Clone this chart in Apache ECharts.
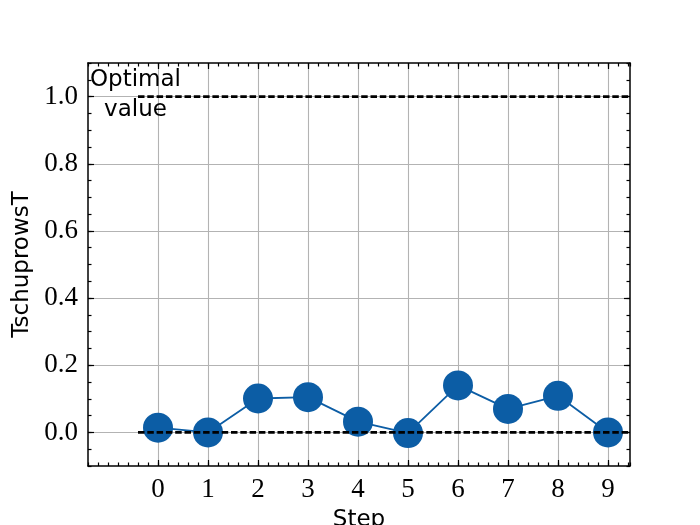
<!DOCTYPE html>
<html>
<head>
<meta charset="utf-8">
<script src="https://cdn.jsdelivr.net/npm/echarts@6/dist/echarts.min.js"></script>
<style>html,body{margin:0;padding:0;background:#fff;}#c{width:700px;height:525px;}</style>
</head>
<body>
<div id="c"></div>
<script>
// ---- data ----
var steps = [0, 1, 2, 3, 4, 5, 6, 7, 8, 9];
var tschuprowsT = [0.014, 0.0, 0.101, 0.105, 0.032, -0.002, 0.140, 0.070, 0.109, 0.0];
var xTicks = [0, 1, 2, 3, 4, 5, 6, 7, 8, 9];
var yTicks = [0.0, 0.2, 0.4, 0.6, 0.8, 1.0];
var xRange = [-1.4, 9.44];
var yRange = [-0.1, 1.1];
var refLevels = [1.0, 0.0];
var refLineStart = -0.4;
var annotation = { x: -0.45, y: 1.0, text: 'Optimal\nvalue' };

var blue = '#0C5DA5';
var serif = 'Liberation Serif';
var sans = 'DejaVu Sans';

function xAxisDef(pos, major, extra) {
  var a = {
    type: 'value', position: pos, min: xRange[0], max: xRange[1],
    axisLine: { show: major, onZero: false, lineStyle: { color: '#000', width: 1.5 } },
    axisTick: { show: true, inside: true, length: major ? 6 : 3.5, lineStyle: { color: '#000', width: 1.2 } },
    axisLabel: { show: false },
    splitLine: { show: false }
  };
  if (major) { a.axisTick.customValues = xTicks; } else { a.interval = 0.2; }
  return Object.assign(a, extra || {});
}
function yAxisDef(pos, major, extra) {
  var a = {
    type: 'value', position: pos, min: yRange[0], max: yRange[1],
    axisLine: { show: major, onZero: false, lineStyle: { color: '#000', width: 1.5 } },
    axisTick: { show: true, inside: true, length: major ? 6 : 3.5, lineStyle: { color: '#000', width: 1.2 } },
    axisLabel: { show: false },
    splitLine: { show: false }
  };
  if (major) { a.axisTick.customValues = yTicks; } else { a.interval = 0.05; }
  return Object.assign(a, extra || {});
}

var refSeries = refLevels.map(function (lv) {
  return {
    type: 'line', xAxisIndex: 0, yAxisIndex: 0, z: 5, silent: true,
    symbol: 'none', data: [[refLineStart, lv], [xRange[1], lv]],
    lineStyle: { color: '#000', width: 2.6, type: [6.5, 2.8] }
  };
});

var chart = echarts.init(document.getElementById('c'), null, { renderer: 'canvas' });
chart.setOption({
  animation: false,
  backgroundColor: '#fff',
  grid: { left: 88, right: 70, top: 63, bottom: 59, containLabel: false, outerBoundsMode: 'none' },
  xAxis: [
    xAxisDef('bottom', true, {
      name: 'Step', nameLocation: 'middle', nameGap: 43,
      nameTextStyle: { fontFamily: sans, fontSize: 23, color: '#000' },
      axisLabel: { show: true, customValues: xTicks, margin: 10, fontFamily: serif, fontSize: 27, color: '#000' },
      splitLine: { show: true, lineStyle: { color: '#b3b3b3', width: 1.1 } }
    }),
    xAxisDef('bottom', false),
    xAxisDef('top', true),
    xAxisDef('top', false)
  ],
  yAxis: [
    yAxisDef('left', true, {
      name: 'TschuprowsT', nameLocation: 'middle', nameGap: 54,
      nameTextStyle: { fontFamily: sans, fontSize: 23, color: '#000' },
      axisLabel: { show: true, customValues: yTicks, margin: 10, fontFamily: serif, fontSize: 27, color: '#000',
        formatter: function (v) { return v.toFixed(1); } },
      splitLine: { show: true, lineStyle: { color: '#b3b3b3', width: 1.1 } }
    }),
    yAxisDef('left', false),
    yAxisDef('right', true),
    yAxisDef('right', false)
  ],
  series: [
    {
      type: 'line', xAxisIndex: 0, yAxisIndex: 0, z: 3,
      data: steps.map(function (s, i) { return [s, tschuprowsT[i]]; }),
      symbol: 'circle', symbolSize: 30, showSymbol: true,
      itemStyle: { color: blue },
      lineStyle: { color: blue, width: 1.8 }
    }
  ].concat(refSeries).concat([
    {
      type: 'scatter', xAxisIndex: 0, yAxisIndex: 0, z: 6, silent: true,
      data: [[annotation.x, annotation.y]],
      symbolSize: 1, itemStyle: { color: 'rgba(0,0,0,0)' },
      label: { show: true, position: 'inside', formatter: annotation.text, align: 'center', verticalAlign: 'middle',
        fontFamily: sans, fontSize: 23, lineHeight: 30, color: '#000', textBorderWidth: 0, opacity: 1, offset: [0, -2] }
    }
  ])
});
</script>
</body>
</html>
